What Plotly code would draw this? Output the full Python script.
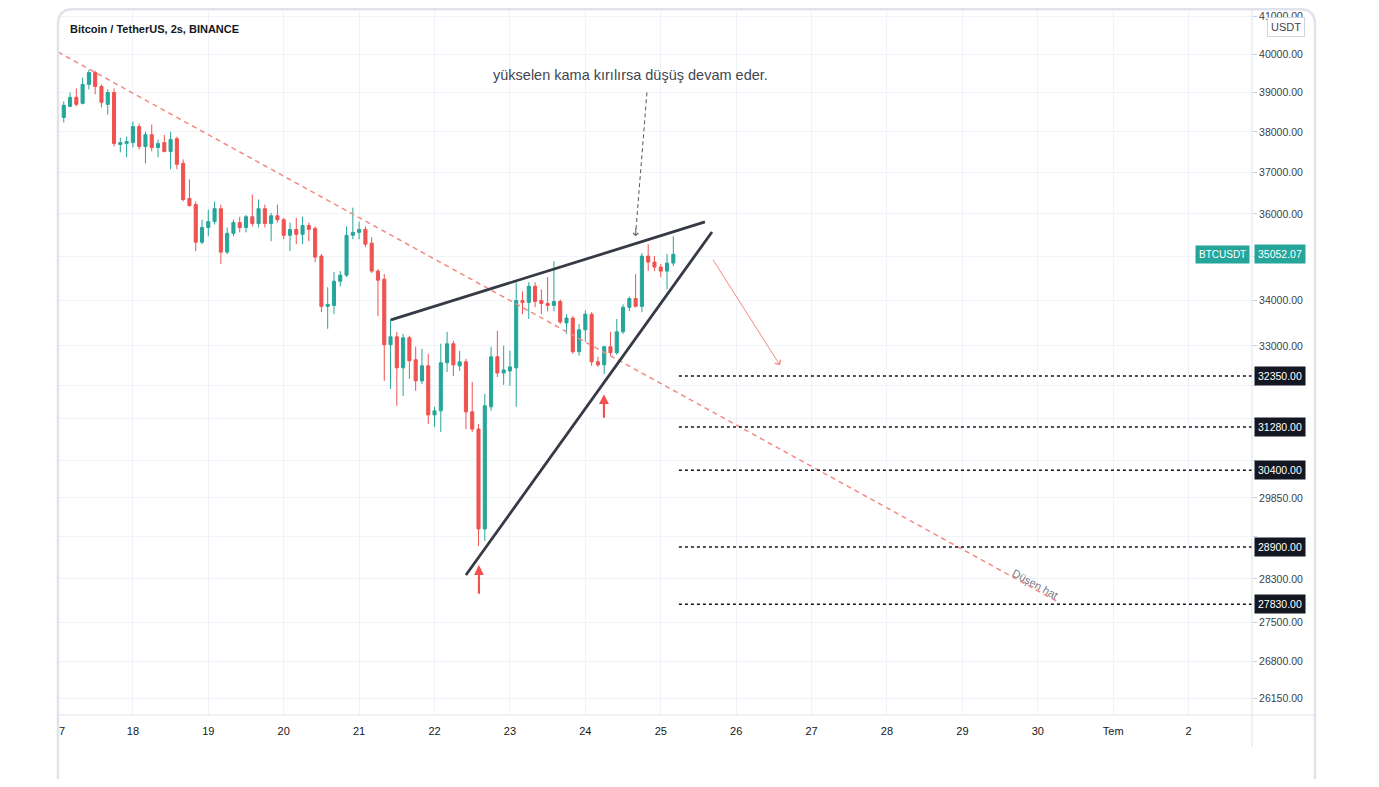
import numpy as np
import pandas as pd
import plotly.graph_objects as go

# ---------------- data ----------------
candle_start = "2021-06-17 02:00"   # first 2h candle
candle_step_hours = 2

open_ = [38362, 38643, 38874, 38720, 39206, 39514, 39155, 38694, 38998, 37683,
         37707, 37732, 38131, 37634, 37927, 37610, 37732, 37512, 37829, 37219,
         36366, 36220, 35333, 35678, 35816, 36122, 35103, 35540, 35793, 35678,
         35931, 35770, 36122, 35770, 35954, 35862, 35494, 35632, 35517, 35724,
         35655, 35011, 33870, 33891, 34436, 34574, 35494, 35563, 35632, 35310,
         34666, 34482, 33023, 33197, 32524, 33175, 32697, 32245, 32567, 31531,
         31615, 32632, 33045, 32567, 32654, 31594, 31237, 29248, 31699, 32763,
         32415, 32458, 32524, 34000, 33957, 34321, 34000, 33935, 33891, 33978,
         33501, 33609, 32871, 33349, 33696, 32654, 32589, 32980, 32850, 33306,
         33848, 34045, 33870, 35011, 34873, 34758, 34666, 34850]
high = [38771, 38998, 39104, 39386, 39590, 39565, 39206, 39078, 39104, 37854,
        37878, 38259, 38208, 38000, 38182, 37805, 37927, 38000, 37878, 37317,
        36829, 36293, 35862, 36098, 36293, 36220, 35678, 35862, 35931, 35977,
        36463, 36342, 36220, 36024, 36220, 35908, 35793, 35908, 35931, 35793,
        35701, 35057, 34298, 34643, 34666, 35701, 36146, 35816, 35701, 35448,
        34712, 34597, 33588, 33306, 33262, 33219, 32980, 32936, 32828, 31699,
        33045, 33306, 33110, 32893, 32719, 32224, 31342, 31972, 32980, 33327,
        33002, 32893, 34413, 34206, 34413, 34413, 34252, 34528, 34896, 34023,
        33696, 33653, 33479, 33783, 33740, 32763, 33002, 33306, 33588, 33913,
        34091, 34597, 35080, 35287, 35011, 34827, 35057, 35471]
low = [38234, 38618, 38643, 38694, 39078, 38950, 38618, 38438, 37634, 37488,
       37366, 37610, 37561, 37219, 37512, 37366, 37488, 37073, 37073, 36293,
       36171, 35126, 35287, 35471, 35747, 34827, 35057, 35471, 35563, 35563,
       35701, 35678, 35678, 35356, 35793, 35402, 35126, 35287, 35287, 35356,
       34873, 33740, 33371, 33696, 34321, 34528, 35402, 35402, 35218, 34620,
       33653, 32245, 32077, 31720, 31930, 32287, 32035, 32182, 31342, 31279,
       31174, 32437, 32350, 32458, 31237, 31174, 28922, 29018, 31615, 32329,
       32161, 32140, 31699, 33696, 33588, 33848, 33696, 33761, 33761, 33479,
       33262, 32828, 32784, 33088, 32567, 32545, 32393, 32784, 32806, 33262,
       33761, 33848, 33740, 34666, 34666, 34528, 34252, 34781]
close = [38669, 38874, 38694, 39206, 39514, 39155, 38746, 38998, 37707, 37732,
         37756, 38131, 37634, 37927, 37610, 37707, 37512, 37805, 37195, 36342,
         36195, 35333, 35678, 35816, 36122, 35103, 35540, 35793, 35678, 35931,
         35770, 36122, 35770, 35954, 35862, 35494, 35632, 35517, 35724, 35632,
         34988, 33870, 33913, 34436, 34574, 35494, 35563, 35632, 35287, 34666,
         34459, 33023, 33197, 32524, 33175, 32676, 32245, 32567, 31531, 31615,
         32632, 33045, 32589, 32654, 31594, 31237, 29248, 31720, 32763, 32415,
         32480, 32545, 34000, 33957, 34321, 33978, 33935, 33891, 33978, 33523,
         33609, 32871, 33349, 33696, 32654, 32589, 32980, 32850, 33306, 33848,
         34045, 33870, 35011, 34873, 34758, 34666, 34850, 35052.07]

last_price = 35052.07
level_prices = [32350, 31280, 30400, 28900, 27830]
level_start = "2021-06-25 05:47"

# axis ticks; those hidden behind the price labels keep only their gridline
ytick_vals = [41000, 40000, 39000, 38000, 37000, 36000, 35000, 34000, 33000,
              32150, 31450, 30600, 29850, 29100, 28300, 27500, 26800, 26150]
ytick_hidden = [35000, 32150, 31450, 30600, 29100]
xtick_dates = ["2021-06-18", "2021-06-19", "2021-06-20", "2021-06-21", "2021-06-22",
               "2021-06-23", "2021-06-24", "2021-06-25", "2021-06-26", "2021-06-27",
               "2021-06-28", "2021-06-29", "2021-06-30", "2021-07-01", "2021-07-02"]
xtick_text = ["18", "19", "20", "21", "22", "23", "24", "25", "26", "27",
              "28", "29", "30", "Tem", "2"]

# drawings (date, price)
trend_x = ["2021-06-17 00:10", "2021-06-30 07:04"]
trend_y = [40053, 27853]
wedge_top_x = ["2021-06-21 10:08", "2021-06-25 14:04"]
wedge_top_y = [33568, 35808]
wedge_bot_x = ["2021-06-22 10:00", "2021-06-25 16:18"]
wedge_bot_y = [28372, 35572]
pointer_x = ["2021-06-24 19:36", "2021-06-24 16:06"]
pointer_y = [39000, 35622]

x_range = ["2021-06-17 00:10", "2021-07-02 20:10"]
y_range_prices = [25871, 41232]

# ---------------- styles ----------------
GREEN = "#26a69a"
RED = "#ef5350"
FONT = "Liberation Sans, Arial, sans-serif"
GRID = "#f0f3fa"
BORDER = "#e0e3eb"

times = pd.date_range(candle_start, periods=len(open_), freq=f"{candle_step_hours}h")

fig = go.Figure()

fig.add_trace(go.Candlestick(
    x=times, open=open_, high=high, low=low, close=close,
    increasing=dict(line=dict(color=GREEN, width=1), fillcolor=GREEN),
    decreasing=dict(line=dict(color=RED, width=1), fillcolor=RED),
    whiskerwidth=0, showlegend=False, hoverinfo="skip"))

fig.add_trace(go.Scatter(x=trend_x, y=trend_y, mode="lines",
                         line=dict(color="#f28b82", width=1.5, dash="5px,4px"),
                         showlegend=False, hoverinfo="skip"))
for xs, ys in [(wedge_top_x, wedge_top_y), (wedge_bot_x, wedge_bot_y)]:
    fig.add_trace(go.Scatter(x=xs, y=ys, mode="lines",
                             line=dict(color="#363a45", width=2.8),
                             showlegend=False, hoverinfo="skip"))
fig.add_trace(go.Scatter(x=pointer_x, y=pointer_y, mode="lines",
                         line=dict(color="#555863", width=1, dash="4px,3px"),
                         showlegend=False, hoverinfo="skip"))
for p in level_prices:
    fig.add_trace(go.Scatter(x=[level_start, x_range[1]], y=[p, p], mode="lines",
                             line=dict(color="#131722", width=1.6, dash="dot"),
                             showlegend=False, hoverinfo="skip"))

ann = []
L = np.log10

# text note
ann.append(dict(x="2021-06-24 14:31", y=L(39450), xref="x", yref="y",
                xanchor="center", yanchor="middle",
                text="yükselen kama kırılırsa düşüş devam eder.", showarrow=False,
                font=dict(family=FONT, size=14.5, color="#434651")))
# pointer arrowhead
ann.append(dict(x="2021-06-24 16:00", y=L(35470), ax="2021-06-24 16:06", ay=L(35700),
                xref="x", yref="y", axref="x", ayref="y", text="", showarrow=True,
                arrowhead=4, arrowsize=1, arrowwidth=1, arrowcolor="#555863"))
# red projection arrow
ann.append(dict(x="2021-06-26 13:57", y=L(32580), ax="2021-06-25 16:18", ay=L(34963),
                xref="x", yref="y", axref="x", ayref="y", text="", showarrow=True,
                arrowhead=4, arrowsize=1.3, arrowwidth=1, arrowcolor="#f28b82"))
# red up arrows
for xd, yh, yt in [("2021-06-22 14:08", 28559, 27996), ("2021-06-24 05:55", 31965, 31443)]:
    ann.append(dict(x=xd, y=L(yh), ax=xd, ay=L(yt), xref="x", yref="y", axref="x",
                    ayref="y", text="", showarrow=True, arrowhead=2, arrowsize=0.9,
                    arrowwidth=2.2, arrowcolor="#f05252"))
# trend line label
ann.append(dict(x="2021-06-29 23:07", y=L(28200), xref="x", yref="y", text="Düşen hat",
                xanchor="center", yanchor="middle",
                showarrow=False, textangle=29,
                font=dict(family=FONT, size=11, color="#787b86")))

# title
ann.append(dict(x=(68 - 58) / 1194, y=(715 - 29) / 707, xref="paper", yref="paper",
                xanchor="left", yanchor="middle", showarrow=False,
                text="<b>Bitcoin / TetherUS, 2s, BINANCE</b>",
                font=dict(family=FONT, size=11, color="#131722")))
# clipped "17" label
ann.append(dict(x=(62 - 58) / 1194, y=(715 - 731) / 707, xref="paper", yref="paper",
                xanchor="center", yanchor="middle",
                showarrow=False, text="7", font=dict(family=FONT, size=11, color="#131722")))

# price labels on the axis
for p in level_prices:
    ann.append(dict(x=1.0015, y=L(p), xref="paper", yref="y", xanchor="left",
                    yanchor="middle", showarrow=False, text=f"{p:.2f}",
                    bgcolor="#131722", borderpad=3,
                    font=dict(family=FONT, size=10.5, color="white")))
ann.append(dict(x=1.0015, y=L(last_price), xref="paper", yref="y", xanchor="left",
                yanchor="middle", showarrow=False, text=f"{last_price:.2f}",
                bgcolor=GREEN, borderpad=3, font=dict(family=FONT, size=10.5, color="white")))
ann.append(dict(x=0.998, y=L(last_price), xref="paper", yref="y", xanchor="right",
                yanchor="middle", showarrow=False, text="BTCUSDT",
                bgcolor=GREEN, borderpad=3, font=dict(family=FONT, size=10, color="white")))
ann.append(dict(x=(1286 - 58) / 1194, y=(715 - 27) / 707, xref="paper", yref="paper",
                xanchor="center", yanchor="middle",
                showarrow=False, text="USDT", bgcolor="white", bordercolor="#d1d4dc",
                borderwidth=1, borderpad=3, font=dict(family=FONT, size=11, color="#434651")))

# frame
R = (1315 - 58) / 1194
rx, ry = 15 / 1194, 15 / 707
top = 1 - 1.2 / 707
shapes = [
    dict(type="path", xref="paper", yref="paper",
         path=f"M 0,-0.12 L 0,{top-ry} Q 0,{top} {rx},{top} L {R-rx},{top} Q {R},{top} {R},{top-ry} L {R},-0.12",
         line=dict(color=BORDER, width=2.5)),
    dict(type="line", xref="paper", yref="paper", x0=0, x1=R, y0=0, y1=0,
         line=dict(color=BORDER, width=1)),
    dict(type="line", xref="paper", yref="paper", x0=1, x1=1, y0=top, y1=-0.045,
         line=dict(color=BORDER, width=1)),
]

fig.update_layout(
    width=1363, height=771,
    margin=dict(l=50, r=119, t=0, b=64),
    paper_bgcolor="white", plot_bgcolor="white",
    hovermode=False, showlegend=False,
    annotations=ann, shapes=shapes,
    font=dict(family=FONT, size=11, color="#131722"),
    xaxis=dict(type="date", range=x_range, rangeslider=dict(visible=False),
               tickvals=xtick_dates, ticktext=xtick_text, showgrid=True,
               gridcolor=GRID, gridwidth=1, zeroline=False, showline=False,
               ticks="", ticklabelstandoff=8,
               tickfont=dict(family=FONT, size=11, color="#131722")),
    yaxis=dict(type="log", side="right", range=[np.log10(v) for v in y_range_prices],
               tickvals=ytick_vals,
               ticktext=["" if v in ytick_hidden else f"{v:.2f}" for v in ytick_vals],
               showgrid=True, gridcolor=GRID, gridwidth=1, zeroline=False,
               showline=False, ticks="outside", ticklen=4, tickcolor="#d1d4dc",
               tickfont=dict(family=FONT, size=10.5, color="#3a3e48")),
)

fig.write_html("out.html")
